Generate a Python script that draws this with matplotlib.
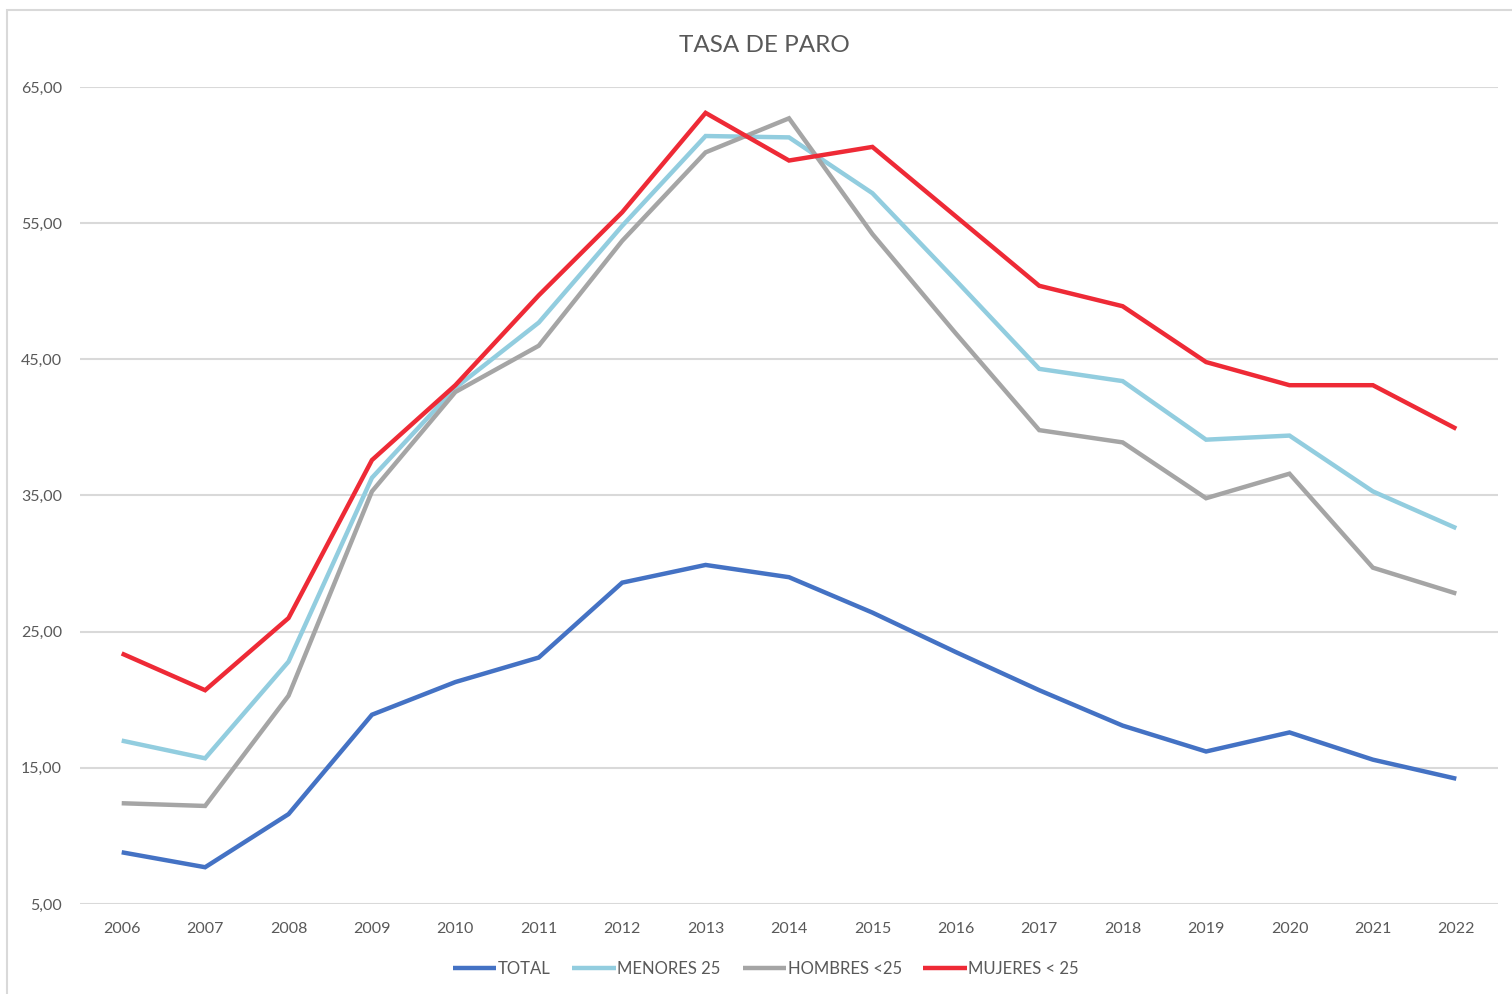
import matplotlib
matplotlib.use("Agg")
import matplotlib.pyplot as plt
from matplotlib.patches import Rectangle
from matplotlib.ticker import FuncFormatter

years = [str(y) for y in range(2006, 2023)]

total = [8.8, 7.7, 11.6, 18.9, 21.3, 23.1, 28.6, 29.9, 29.0, 26.4,
         23.5, 20.7, 18.1, 16.2, 17.6, 15.6, 14.2]
menores_25 = [17.0, 15.7, 22.8, 36.3, 42.9, 47.7, 54.8, 61.4, 61.3, 57.2,
              50.8, 44.3, 43.4, 39.1, 39.4, 35.3, 32.6]
hombres_25 = [12.4, 12.2, 20.3, 35.3, 42.6, 46.0, 53.7, 60.2, 62.7, 54.2,
              46.9, 39.8, 38.9, 34.8, 36.6, 29.7, 27.8]
mujeres_25 = [23.4, 20.7, 26.0, 37.6, 43.1, 49.7, 55.8, 63.1, 59.6, 60.6,
              55.5, 50.4, 48.9, 44.8, 43.1, 43.1, 39.9]

series = [
    ("TOTAL", total, "#4472C4"),
    ("MENORES 25", menores_25, "#92CDDF"),
    ("HOMBRES <25", hombres_25, "#A5A5A5"),
    ("MUJERES < 25", mujeres_25, "#EE2A36"),
]

plt.rcParams["font.family"] = ["Lato", "DejaVu Sans"]
text_color = "#595959"
grid_color = "#D9D9D9"

fig = plt.figure(figsize=(15.12, 9.94), dpi=100)
fig.patches.append(Rectangle((7 / 1512, -0.1), 1.2, 1 - 10 / 994 + 0.1,
                             transform=fig.transFigure, fill=False,
                             edgecolor=grid_color, linewidth=1.5))

ax = fig.add_axes([80 / 1512, 1 - 904 / 994, (1498 - 80) / 1512, (904 - 87) / 994])
x = range(len(years))
for label, vals, color in series:
    ax.plot(x, vals, color=color, linewidth=3.2, label=label,
            solid_joinstyle="miter", solid_capstyle="butt")

ax.set_xlim(-0.5, len(years) - 0.5)
ax.set_ylim(5, 65)
ax.set_yticks(range(5, 66, 10))
ax.yaxis.set_major_formatter(FuncFormatter(lambda v, _: f"{v:.2f}".replace(".", ",")))
ax.set_xticks(list(x))
ax.set_xticklabels(years)
ax.grid(axis="y", color=grid_color, linewidth=1.5)
ax.set_axisbelow(True)
for s in ax.spines.values():
    s.set_visible(False)
ax.tick_params(axis="both", length=0, labelsize=11.5, colors=text_color)
ax.tick_params(axis="y", pad=13)
ax.tick_params(axis="x", pad=13)

fig.text(764 / 1512, 1 - 45 / 994, "TASA DE PARO", ha="center", va="center",
         fontsize=17.5, color=text_color)

leg = fig.legend(loc="center", bbox_to_anchor=(766 / 1512, 1 - 969 / 994), ncol=4,
                 frameon=False, fontsize=12, handlelength=2.6, handletextpad=0.1,
                 columnspacing=1.3)
for t in leg.get_texts():
    t.set_color(text_color)

fig.savefig("out.png", dpi=100, facecolor="white")
